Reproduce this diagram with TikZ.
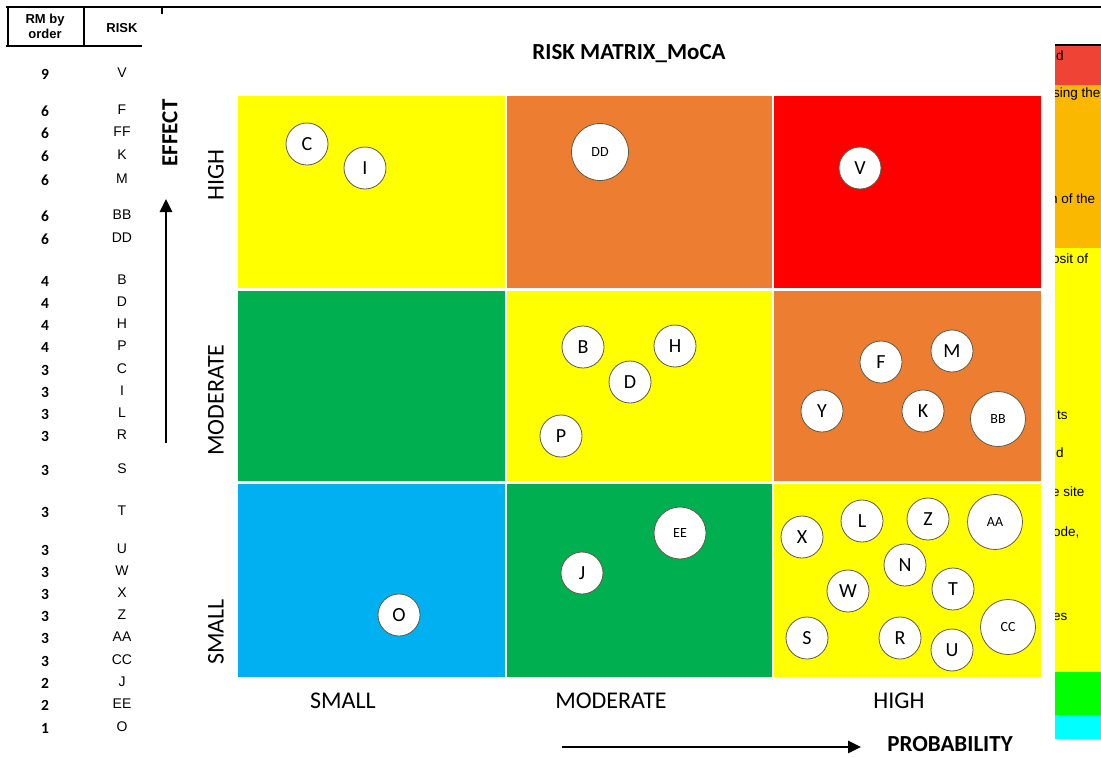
\documentclass[tikz,border=0pt]{standalone}
\usepackage{fontspec}
\setmainfont{Carlito}
\newfontfamily\arialfont{Liberation Sans}
\usetikzlibrary{arrows.meta, positioning}
\definecolor{rmyellow}{RGB}{255,255,0}
\definecolor{rmorange}{RGB}{237,125,49}
\definecolor{rmred}{RGB}{255,0,0}
\definecolor{rmgreen}{RGB}{0,176,80}
\definecolor{rmblue}{RGB}{0,176,240}
\definecolor{keyred}{RGB}{239,67,54}
\definecolor{keyamber}{RGB}{250,185,0}
\definecolor{keygreen}{RGB}{0,255,0}
\definecolor{keycyan}{RGB}{0,255,255}
\definecolor{ringgray}{RGB}{95,90,70}

\begin{document}
\begin{tikzpicture}[x=1pt, y=-1pt,
    risk/.style={circle, draw=ringgray, line width=0.8pt, fill=white, inner sep=0pt,
        minimum size=42pt, font=\fontsize{20}{20}\selectfont},
    bigrisk/.style={risk, minimum size=55pt, font=\fontsize{14}{14}\selectfont},
    levellbl/.style={font=\fontsize{24}{24}\selectfont},
    axislbl/.style={inner sep=1pt, font=\fontsize{23}{23}\selectfont\bfseries},
    axisarrow/.style={line width=2.6pt, -{Triangle[length=13pt, width=12pt]}},
    keytxt/.style={anchor=west, inner sep=0pt, font=\arialfont\fontsize{13.5}{13.5}\selectfont}]
    \useasboundingbox (0,0) rectangle (1101,758);

    % Table head
    \draw[line width=2pt] (6,7) -- (1101,7);
    \draw[line width=2pt] (8,7) -- (8,46) (84,7) -- (84,46) (6,46) -- (142,46);
    \draw[line width=1.2pt] (162,7) -- (162,14);
    \node[align=center, font=\arialfont\bfseries\fontsize{13}{15}\selectfont] at (45,26) (rmhead) {RM by\\order};
    \node[font=\arialfont\bfseries\fontsize{13}{13}\selectfont] at (122,28) (riskhead) {RISK};

    % Table rows
    \foreach \rm/\id/\ypos in {9/V/73, 6/F/110, 6/FF/132, 6/K/155, 6/M/179, 6/BB/215, 6/DD/238,
        4/B/280, 4/D/302, 4/H/324, 4/P/346, 3/C/369, 3/I/391, 3/L/413, 3/R/435, 3/S/469, 3/T/511,
        3/U/549, 3/W/571, 3/X/593, 3/Z/615, 3/AA/637, 3/CC/660, 2/J/682, 2/EE/704, 1/O/727} {
        \node[font=\bfseries\fontsize{15.5}{15.5}\selectfont] at (45,\ypos+1) (rm-\id) {\rm};
        \node[font=\arialfont\fontsize{14}{14}\selectfont] at (122,\ypos) (id-\id) {\id};
    }

    % Title
    \node[font=\bfseries\fontsize{23}{23}\selectfont] at (629,54) (title) {RISK MATRIX\_MoCA};

    % Matrix cells
    \fill[rmyellow] (238,96) rectangle (505,288);
    \fill[rmorange] (507,96) rectangle (772,288);
    \fill[rmred] (774,96) rectangle (1041,288);
    \fill[rmgreen] (238,291) rectangle (505,481);
    \fill[rmyellow] (507,291) rectangle (772,481);
    \fill[rmorange] (774,291) rectangle (1041,481);
    \fill[rmblue] (238,484) rectangle (505,677);
    \fill[rmgreen] (507,484) rectangle (772,677);
    \fill[rmyellow] (774,484) rectangle (1041,677);

    % Effect axis
    \node[axislbl, rotate=90] at (170,133) (effect) {EFFECT};
    \coordinate (effbase) at (166,443);
    \coordinate (efftip) at (166,199);
    \draw[axisarrow] (effbase) -- (efftip);
    \node[levellbl, rotate=90] at (216,175) (ehigh) {HIGH};
    \node[levellbl, rotate=90] at (216,400) (emod) {MODERATE};
    \node[levellbl, rotate=90] at (216,632) (esmall) {SMALL};

    % Probability axis
    \node[levellbl] at (343,701) (psmall) {SMALL};
    \node[levellbl] at (611,701) (pmod) {MODERATE};
    \node[levellbl] at (899,701) (phigh) {HIGH};
    \coordinate (probbase) at (562,747);
    \coordinate (probtip) at (861,747);
    \draw[axisarrow] (probbase) -- (probtip);
    \node[axislbl] at (950,744) (prob) {PROBABILITY};

    % Risks, high effect
    \node[risk] at (307,144) (rC) {C};
    \node[risk] at (365,168) (rI) {I};
    \node[bigrisk, minimum size=57pt] at (600,152) (rDD) {DD};
    \node[risk] at (860,168) (rV) {V};

    % Risks, moderate effect
    \node[risk] at (583,347) (rB) {B};
    \node[risk] at (675,346) (rH) {H};
    \node[risk] at (630,382) (rD) {D};
    \node[risk] at (561,436) (rP) {P};
    \node[risk] at (881,362) (rF) {F};
    \node[risk] at (952,351) (rM) {M};
    \node[risk] at (822,411) (rY) {Y};
    \node[risk] at (923,411) (rK) {K};
    \node[bigrisk] at (998,419) (rBB) {BB};

    % Risks, small effect
    \node[risk] at (399,615) (rO) {O};
    \node[risk] at (582,573) (rJ) {J};
    \node[bigrisk, minimum size=52pt] at (680,533) (rEE) {EE};
    \node[risk] at (802,537) (rX) {X};
    \node[risk] at (862,521) (rL) {L};
    \node[risk] at (928,519) (rZ) {Z};
    \node[bigrisk] at (995,522) (rAA) {AA};
    \node[risk] at (905,565) (rN) {N};
    \node[risk] at (848,591) (rW) {W};
    \node[risk] at (953,589) (rT) {T};
    \node[risk] at (807,638) (rS) {S};
    \node[risk] at (900,638) (rR) {R};
    \node[risk] at (952,650) (rU) {U};
    \node[bigrisk] at (1008,627) (rCC) {CC};

    % Key strip, cut at the right edge
    \begin{scope}
        \clip (1055,40) rectangle (1101,745);
        \fill[keyred] (1055,45) rectangle (1101,85);
        \fill[keyamber] (1055,85) rectangle (1101,248);
        \fill[rmyellow] (1055,248) rectangle (1101,672);
        \fill[keygreen] (1055,672) rectangle (1101,715);
        \fill[keycyan] (1055,715) rectangle (1101,739);
        \draw[line width=2pt] (1055,45) -- (1101,45);
        \node[keytxt] at (1056,56) (k1) {d};
        \node[keytxt] at (1053,94) (k2) {sing the};
        \node[keytxt] at (1050,199) (k3) {n of the};
        \node[keytxt] at (1052,259) (k4) {osit of};
        \node[keytxt] at (1057,415) (k5) {ts};
        \node[keytxt] at (1056,453) (k6) {d};
        \node[keytxt] at (1052,492) (k7) {e site};
        \node[keytxt] at (1053,532) (k8) {ode,};
        \node[keytxt] at (1053,617) (k9) {es};
    \end{scope}
\end{tikzpicture}
\end{document}
